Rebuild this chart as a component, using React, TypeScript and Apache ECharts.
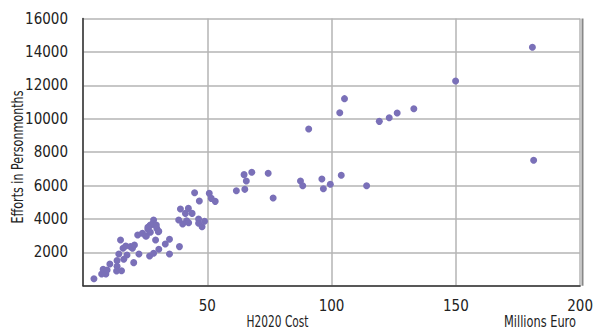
import React, { useEffect, useRef } from "react";
import * as echarts from "echarts";

const costMillions: number[] = [
  4.4, 7.5, 8.1, 9.2, 9.7, 10.8, 13.7, 13.7, 13.5, 15.5, 15.1, 14.4, 16.1, 17.2, 17.7, 16.4, 19.1, 19.9, 20.7, 20.4,
  22.5, 22.0, 23.9, 25.5, 26.1, 26.8, 27.1, 27.9, 28.4, 29.2, 29.7, 30.5, 29.2, 26.8, 28.4, 30.5, 33.1, 34.8, 34.8,
  38.5, 38.8, 39.2, 40.1, 41.2, 41.7, 42.4, 42.5, 43.9, 44.9, 46.5, 46.8, 46.5, 47.9, 48.9, 50.8, 51.6, 53.2, 61.7,
  65.1, 64.8, 65.7, 67.9, 74.5, 76.5, 87.5, 88.4, 90.8, 96.1, 96.7, 99.5, 103.3, 105.2, 103.9, 114.1, 119.2, 123.2,
  126.4, 133.1, 149.9, 180.8, 181.3, 27.1, 29.5, 30.3, 26.1, 25.2,
];
const effortPM: number[] = [
  420, 700, 980, 700, 940, 1300, 1500, 1160, 880, 900, 2740, 1900, 2240, 2380, 1840, 1580, 2340, 2240, 2440, 1380,
  1900, 3040, 3140, 2980, 3380, 3580, 3200, 3700, 3930, 3620, 3420, 3260, 2740, 1780, 1940, 2180, 2500, 2780, 1900,
  3930, 2340, 4590, 3700, 4330, 3890, 4630, 3770, 4330, 5570, 3990, 5070, 3740, 3530, 3860, 5530, 5230, 5050, 5690,
  5770, 6650, 6270, 6790, 6730, 5250, 6270, 5990, 9380, 6390, 5810, 6070, 10360, 11200, 6610, 5990, 9840, 10060,
  10340, 10600, 12260, 14280, 7510, 3630, 3630, 3230, 3500, 2980,
];

const yTicks: number[] = [2000, 4000, 6000, 8000, 10000, 12000, 14000, 16000];
const xTicks: number[] = [50, 100, 150, 200];

const FONT = "'Liberation Sans Narrow', 'DejaVu Sans Condensed', sans-serif";

function measure(text: string, size: number): number {
  const c = document.createElement("canvas").getContext("2d");
  if (!c) return text.length * size * 0.5;
  c.font = `${size}px ${FONT}`;
  return c.measureText(text).width;
}

export default function App() {
  const ref = useRef<HTMLDivElement>(null);
  useEffect(() => {
    if (!ref.current) return;
    const chart = echarts.init(ref.current, undefined, { renderer: "svg" });
    const data = costMillions.map((c, i) => [c, effortPM[i]]);
    const titleSize = 16;
    const fitScale = (t: string, w: number) => Math.min(1.2, w / measure(t, titleSize));
    const yTitle = "Efforts in Personmonths";
    const xTitle = "H2020 Cost";
    const unitTitle = "Millions Euro";
    chart.setOption({
      animation: false,
      backgroundColor: "#ffffff",
      grid: { left: 83, right: 13, top: 18.5, bottom: 46.3, containLabel: false },
      xAxis: {
        type: "value",
        min: 0,
        max: 200,
        interval: 50,
        axisLine: { show: true, lineStyle: { color: "#333333", width: 1.5 } },
        axisTick: { show: false },
        axisLabel: {
          margin: 13,
          fontFamily: FONT,
          fontSize: 15,
          color: "#222222",
          formatter: (v: number) => (xTicks.includes(v) ? String(v) : ""),
        },
        splitLine: { show: true, lineStyle: { color: "#b4b4b4", width: 1.5 } },
      },
      yAxis: {
        type: "value",
        min: 0,
        max: 16000,
        interval: 2000,
        axisLine: { show: true, lineStyle: { color: "#333333", width: 1.5 } },
        axisTick: { show: false },
        axisLabel: {
          margin: 15,
          fontFamily: FONT,
          fontSize: 15,
          color: "#222222",
          formatter: (v: number) => (yTicks.includes(v) ? String(v) : ""),
        },
        splitLine: { show: true, lineStyle: { color: "#b4b4b4", width: 1.5 } },
      },
      graphic: [
        {
          type: "line",
          shape: { x1: 582.5, y1: 18.5, x2: 582.5, y2: 285.7 },
          style: { stroke: "#888888", lineWidth: 2 },
          z: 10,
        },
        {
          type: "text",
          x: 17,
          y: 157,
          rotation: Math.PI / 2,
          scaleX: fitScale(yTitle, 133),
          style: {
            text: yTitle,
            fontFamily: FONT,
            fontSize: titleSize,
            fill: "#222222",
            align: "center",
            verticalAlign: "middle",
          },
        },
        {
          type: "text",
          x: 277.5,
          y: 321,
          scaleX: fitScale(xTitle, 62),
          style: {
            text: xTitle,
            fontFamily: FONT,
            fontSize: titleSize,
            fill: "#222222",
            align: "center",
            verticalAlign: "middle",
          },
        },
        {
          type: "text",
          x: 540,
          y: 321,
          scaleX: fitScale(unitTitle, 72),
          style: {
            text: unitTitle,
            fontFamily: FONT,
            fontSize: titleSize,
            fill: "#222222",
            align: "center",
            verticalAlign: "middle",
          },
        },
      ],
      series: [
        {
          type: "scatter",
          data,
          symbol: "circle",
          symbolSize: 7,
          itemStyle: { color: "#7a70b8", opacity: 1 },
          z: 5,
        },
      ],
    });
    return () => chart.dispose();
  }, []);
  return <div ref={ref} style={{ width: 596, height: 332, position: "absolute", left: 0, top: 0 }} />;
}
